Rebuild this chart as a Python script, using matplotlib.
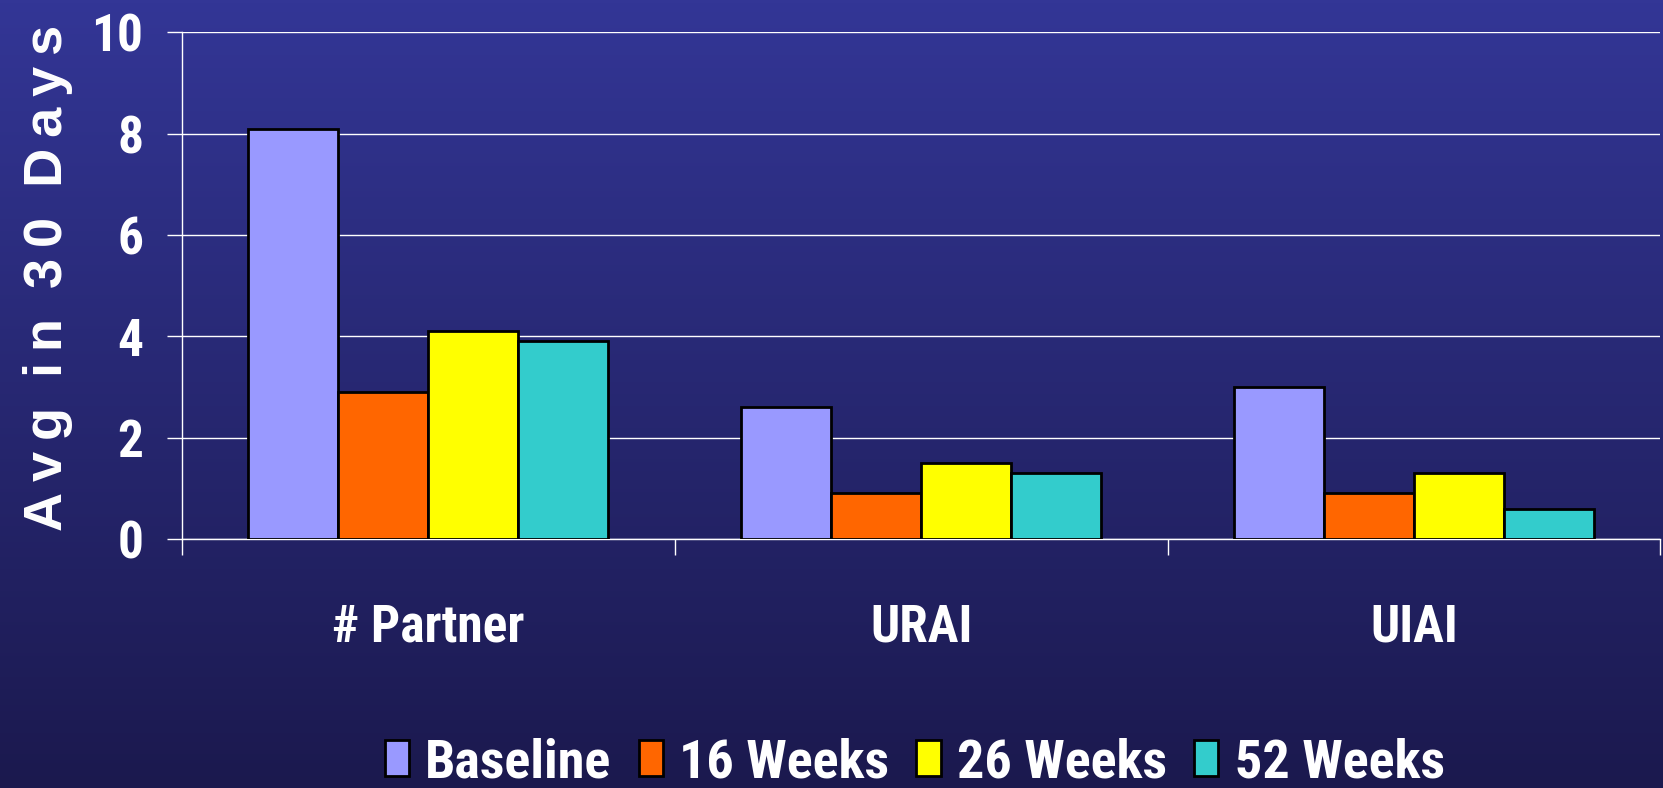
import numpy as np
import matplotlib
matplotlib.use("Agg")
import matplotlib.pyplot as plt
from matplotlib.patches import Patch

# chart data
categories = ["# Partner", "URAI", "UIAI"]
series_names = ["Baseline", "16 Weeks", "26 Weeks", "52 Weeks"]
baseline = [8.1, 2.6, 3.0]
weeks16 = [2.9, 0.9, 0.9]
weeks26 = [4.1, 1.5, 1.3]
weeks52 = [3.9, 1.3, 0.6]
colors = ["#9999FF", "#FF6600", "#FFFF00", "#33CCCC"]
yticks = [0, 2, 4, 6, 8, 10]

narrow = ["Roboto Condensed", "DejaVu Sans"]
wide = ["Liberation Sans", "DejaVu Sans"]

fig = plt.figure(figsize=(16.63, 7.88), dpi=100)

# gradient background
bg = fig.add_axes([0, 0, 1, 1], zorder=-10)
top = np.array([0x33, 0x36, 0x96]) / 255
bot = np.array([0x1b, 0x19, 0x4e]) / 255
t = np.linspace(0, 1, 256)[:, None, None]
grad = top * (1 - t) + bot * t
bg.imshow(np.repeat(grad, 2, axis=1), aspect="auto", extent=[0, 1, 0, 1])
bg.axis("off")

ax = fig.add_axes([0.1094, 0.316, 0.889, 0.643])
ax.patch.set_alpha(0)

values = [baseline, weeks16, weeks26, weeks52]
x = np.arange(len(categories))
width = 0.73 / 4
for i, vals in enumerate(values):
    ax.bar(x - 0.73 / 2 + width * (i + 0.5), vals, width, color=colors[i],
           edgecolor="black", linewidth=2, zorder=3)

ax.set_xlim(-0.5, 2.5)
ax.set_ylim(0, 10)
ax.set_yticks(yticks)
ax.set_yticklabels([str(v) for v in yticks], family=narrow, fontsize=37,
                   fontweight="bold", color="white")
ax.yaxis.grid(True, color="white", linewidth=1, zorder=0)

ax.set_xticks(x)
ax.set_xticklabels(categories, family=narrow, fontsize=37, fontweight="bold",
                   color="white")
ax.tick_params(axis="x", length=0, pad=46)
ax.set_xticks([-0.5, 0.5, 1.5, 2.5], minor=True)
ax.tick_params(axis="x", which="minor", length=11.5, color="white", width=1)
ax.tick_params(axis="y", length=11, color="white", width=1, pad=17)

for s in ["top", "right"]:
    ax.spines[s].set_visible(False)
for s in ["left", "bottom"]:
    ax.spines[s].set_color("white")
    ax.spines[s].set_linewidth(1)

# spaced-out y label like the slide
ts = "\u2009"
ylab = "  ".join(ts.join(w) for w in ["Avg", "in", "30", "Days"])
fig.text(0.029, 0.326, ylab, family=wide, fontsize=39, fontweight="bold",
         color="white", rotation=90, ha="center", va="bottom")

handles = [Patch(facecolor=c, edgecolor="black", linewidth=2) for c in colors]
fig.legend(handles, series_names, loc="lower center", ncol=4, frameon=False,
           bbox_to_anchor=(0.55, 0.0), borderpad=0, borderaxespad=0,
           handlelength=0.45, handleheight=0.63,
           handletextpad=0.3, columnspacing=0.5,
           prop={"family": narrow, "size": 39, "weight": "bold"},
           labelcolor="white")

fig.savefig("out.png", dpi=100)
